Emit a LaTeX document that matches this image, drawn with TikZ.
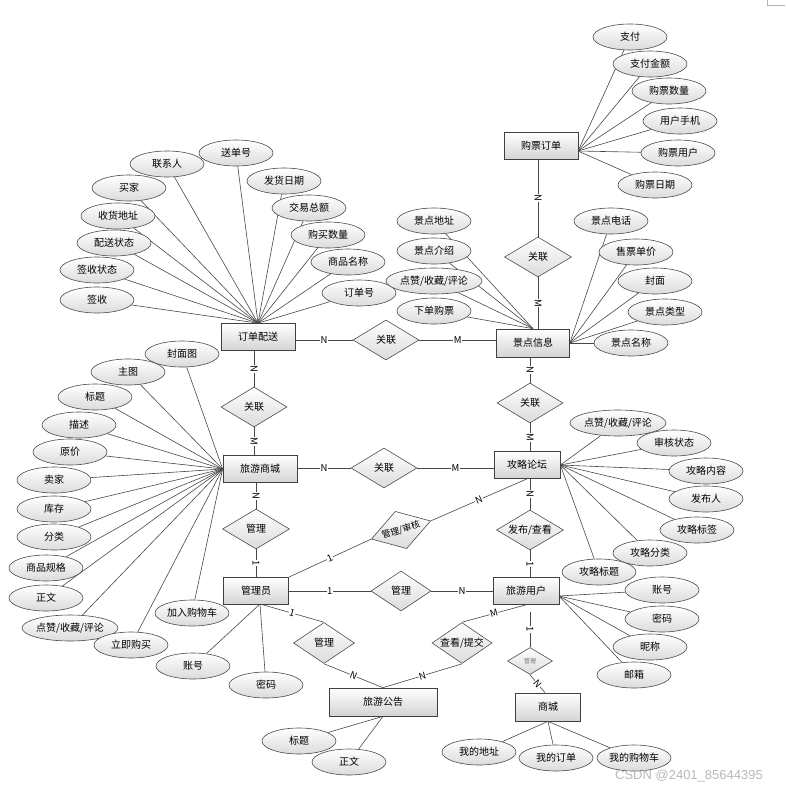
\documentclass[tikz,border=0pt]{standalone}
\usepackage{fontspec}
\setmainfont{Noto Sans CJK SC}
\newfontfamily\wmfont{Liberation Sans}
\usetikzlibrary{shapes.geometric,calc}
\pgfdeclarelayer{bg}
\pgfsetlayers{bg,main}
\tikzset{
 ent/.style={rectangle,draw=black!75,line width=0.7pt,top color=white,bottom color=black!17,minimum height=27pt,inner sep=0pt},
 att/.style={ellipse,draw=black!70,line width=0.6pt,top color=white,bottom color=black!14,minimum width=74pt,minimum height=26pt,inner sep=0pt},
 rel/.style={diamond,draw=black!70,line width=0.6pt,top color=white,bottom color=black!14,inner sep=0pt},
 ln/.style={draw=black!72,line width=0.6pt},
 card/.style={fill=white,inner sep=0.5pt,font=\fontsize{9.5}{10}\selectfont,sloped},
}
\begin{document}
\begin{tikzpicture}[x=1pt,y=-1pt,font=\fontsize{10}{12}\selectfont]
\useasboundingbox (0,0) rectangle (785,790);
% entities
\node[ent,minimum width=74pt] (po) at (541,146) {购票订单};
\node[ent,minimum width=73pt,minimum height=28pt] (jd) at (533,343) {景点信息};
\node[ent,minimum width=74pt] (od) at (258,337) {订单配送};
\node[ent,minimum width=74pt] (sc) at (260,469) {旅游商城};
\node[ent,minimum width=66pt] (lt) at (527,465) {攻略论坛};
\node[ent,minimum width=65pt] (gl) at (256,591) {管理员};
\node[ent,minimum width=66pt] (yh) at (526,591) {旅游用户};
\node[ent,minimum width=108pt,minimum height=28pt] (gg) at (383,702) {旅游公告};
\node[ent,minimum width=65pt,minimum height=28pt] (mall) at (548,707) {商城};
% relations
\node[rel,minimum width=67pt,minimum height=40pt,label={center:关联}] (r1) at (538,257) {};
\node[rel,minimum width=66pt,minimum height=40pt,label={center:关联}] (r2) at (386,340) {};
\node[rel,minimum width=66pt,minimum height=40pt,label={center:关联}] (r3) at (254,407) {};
\node[rel,minimum width=66pt,minimum height=40pt,label={center:关联}] (r4) at (530,403) {};
\node[rel,minimum width=66pt,minimum height=40pt,label={center:关联}] (r5) at (384,468) {};
\node[rel,minimum width=67pt,minimum height=40pt,label={center:管理}] (r6) at (256,529) {};
\node[rel,minimum width=62pt,minimum height=39pt,rotate=17,label={[rotate=17,font=\fontsize{9}{10}\selectfont,inner sep=0pt]center:管理/审核}] (r7) at (401,530) {};
\node[rel,minimum width=67pt,minimum height=40pt,label={center:发布/查看}] (r8) at (530,530) {};
\node[rel,minimum width=60pt,minimum height=40pt,label={center:管理}] (r9) at (401,591) {};
\node[rel,minimum width=61pt,minimum height=41pt,label={center:管理}] (r10) at (324,643) {};
\node[rel,minimum width=60pt,minimum height=41pt,label={center:查看/提交}] (r11) at (462,643) {};
\node[rel,minimum width=45pt,minimum height=27pt,label={[font=\fontsize{6}{7}\selectfont,text=black!55]center:管理}] (r12) at (530,661) {};
% helper coordinates
\coordinate (poE) at (578,151);
\coordinate (yhE) at (559,596);
\coordinate (glS) at (260,604);
\coordinate (yhS) at (530,612);
% attributes of 订单配送
\node[att] (a1) at (167,164) {联系人};
\node[att] (a2) at (236,153) {送单号};
\node[att] (a3) at (129,188) {买家};
\node[att] (a4) at (118,216) {收货地址};
\node[att] (a5) at (114,243) {配送状态};
\node[att] (a6) at (97,270) {签收状态};
\node[att] (a7) at (97,300) {签收};
\node[att] (a8) at (284,181) {发货日期};
\node[att] (a9) at (309,208) {交易总额};
\node[att] (a10) at (328,235) {购买数量};
\node[att] (a11) at (348,262) {商品名称};
\node[att] (a12) at (359,293) {订单号};
% attributes of 购票订单
\node[att] (b1) at (630,37) {支付};
\node[att] (b2) at (650,64) {支付金额};
\node[att] (b3) at (669,91) {购票数量};
\node[att] (b4) at (680,121) {用户手机};
\node[att] (b5) at (678,153) {购票用户};
\node[att] (b6) at (655,185) {购票日期};
% attributes of 景点信息
\node[att] (c1) at (434,221) {景点地址};
\node[att] (c2) at (434,251) {景点介绍};
\node[att] (c3) at (434,281) {点赞/收藏/评论};
\node[att] (c4) at (434,311) {下单购票};
\node[att] (c5) at (611,221) {景点电话};
\node[att] (c6) at (636,252) {售票单价};
\node[att] (c7) at (655,281) {封面};
\node[att] (c8) at (665,312) {景点类型};
\node[att] (c9) at (631,343) {景点名称};
% attributes of 旅游商城
\node[att] (d1) at (182,354) {封面图};
\node[att] (d2) at (128,372) {主图};
\node[att] (d3) at (95,397) {标题};
\node[att] (d4) at (79,425) {描述};
\node[att] (d5) at (70,452) {原价};
\node[att] (d6) at (54,480) {卖家};
\node[att] (d7) at (54,509) {库存};
\node[att] (d8) at (54,537) {分类};
\node[att] (d9) at (46,568) {商品规格};
\node[att] (d10) at (46,598) {正文};
\node[att] (d11) at (70,628) {点赞/收藏/评论};
\node[att] (d12) at (131,645) {立即购买};
\node[att] (d13) at (192,613) {加入购物车};
% attributes of 攻略论坛
\node[att] (e1) at (618,423) {点赞/收藏/评论};
\node[att] (e2) at (674,443) {审核状态};
\node[att] (e3) at (706,471) {攻略内容};
\node[att] (e4) at (706,499) {发布人};
\node[att] (e5) at (697,530) {攻略标签};
\node[att] (e6) at (650,553) {攻略分类};
\node[att] (e7) at (599,572) {攻略标题};
% attributes of 旅游用户
\node[att] (f1) at (662,590) {账号};
\node[att] (f2) at (662,619) {密码};
\node[att] (f3) at (650,647) {昵称};
\node[att] (f4) at (634,675) {邮箱};
% attributes of 管理员
\node[att] (g1) at (193,666) {账号};
\node[att] (g2) at (266,685) {密码};
% attributes of 旅游公告
\node[att] (h1) at (299,741) {标题};
\node[att] (h2) at (349,762) {正文};
% attributes of 商城
\node[att] (i1) at (479,752) {我的地址};
\node[att] (i2) at (556,758) {我的订单};
\node[att] (i3) at (634,758) {我的购物车};
% watermark and corner mark
\node[text=black!28,font=\wmfont\fontsize{13}{14}\selectfont,inner sep=0pt] (wm) at (689,776) {CSDN @2401\_85644395};
\draw[black!30,line width=0.5pt] (767,0) -- (767,5) -- (785,5);
\begin{pgfonlayer}{bg}
% attribute lines
\foreach \n in {a1,a2,a3,a4,a5,a6,a7,a8,a9,a10,a11,a12} \draw[ln] (\n) -- (od.north);
\foreach \n in {b1,b2,b3,b4,b5,b6} \draw[ln] (\n) -- (poE);
\foreach \n in {c1,c2,c3,c4} \draw[ln] (\n) -- (jd.north);
\foreach \n in {c5,c6,c7,c8,c9} \draw[ln] (\n) -- (jd.east);
\foreach \n in {d1,d2,d3,d4,d5,d6,d7,d8,d9,d10,d11,d12,d13} \draw[ln] (\n) -- (sc.west);
\foreach \n in {e1,e2,e3,e4,e5,e6,e7} \draw[ln] (\n) -- (lt.east);
\foreach \n in {f1,f2,f3,f4} \draw[ln] (\n) -- (yhE);
\foreach \n in {g1,g2} \draw[ln] (\n) -- (glS);
\foreach \n in {h1,h2} \draw[ln] (\n) -- (gg.south);
\foreach \n in {i1,i2,i3} \draw[ln] (\n) -- (mall.south);
% relationship lines
\draw[ln] (r1.north |- po.south) -- node[card]{N} (r1.north);
\draw[ln] (r1.south) -- node[card]{M} (r1.south |- jd.north);
\draw[ln] (od.east |- r2.west) -- node[card]{N} (r2.west);
\draw[ln] (r2.east) -- node[card]{M} (r2.east -| jd.west);
\draw[ln] (od.south -| r3.north) -- node[card]{N} (r3.north);
\draw[ln] (r3.south) -- node[card]{M} (r3.south |- sc.north);
\draw[ln] (jd.south -| r4.north) -- node[card]{N} (r4.north);
\draw[ln] (r4.south) -- node[card]{M} (r4.south |- lt.north);
\draw[ln] (sc.east |- r5.west) -- node[card]{N} (r5.west);
\draw[ln] (r5.east) -- node[card]{M} (r5.east -| lt.west);
\draw[ln] (sc.south -| r6.north) -- node[card]{N} (r6.north);
\draw[ln] (r6.south) -- node[card]{1} (r6.south |- gl.north);
\draw[ln] (gl.north east) -- node[card]{1} (r7.west);
\draw[ln] (r7.east) -- node[card]{N} (lt.south);
\draw[ln] (lt.south -| r8.north) -- node[card]{N} (r8.north);
\draw[ln] (r8.south) -- node[card]{1} (r8.south |- yh.north);
\draw[ln] (gl.east) -- node[card]{1} (r9.west);
\draw[ln] (r9.east) -- node[card]{N} (yh.west);
\draw[ln] (glS) -- node[card]{1} (r10.north);
\draw[ln] (r10.south) -- node[card]{N} (gg.north);
\draw[ln] (yh.south) -- node[card]{M} (r11.north);
\draw[ln] (r11.south) -- node[card]{N} (gg.north);
\draw[ln] (yhS) -- node[card]{1} (r12.north);
\draw[ln] (r12.south) -- node[card]{N} (mall.north -| 545,0);
\end{pgfonlayer}
\end{tikzpicture}
\end{document}
